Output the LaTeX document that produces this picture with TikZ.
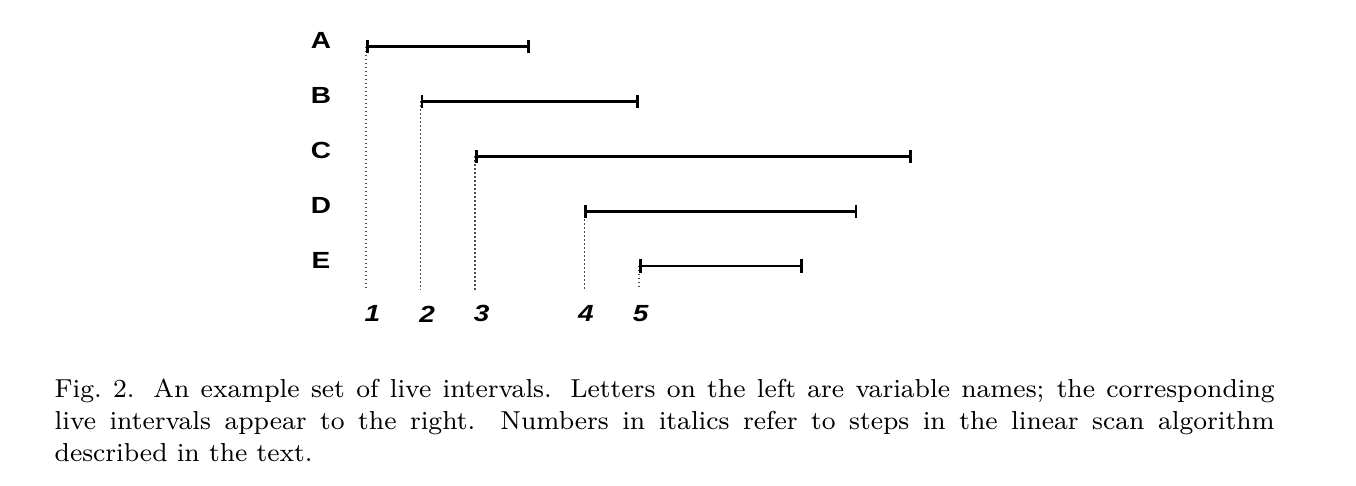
\documentclass[tikz,border=0pt]{standalone}
\usepackage{fontspec}
\usepackage{tikz}
\usetikzlibrary{arrows.meta}
\newfontfamily\labelfont[FakeStretch=1.2]{Liberation Sans}

\tikzset{
    interval/.style={line width=0.8pt, {Bar[width=4pt]}-{Bar[width=4pt]}},
    guide/.style={line width=0.45pt, black!70, dash pattern=on 0.4pt off 0.8pt},
    varname/.style={font=\labelfont\bfseries\fontsize{7}{8}\selectfont, inner sep=0pt},
    stepnum/.style={font=\labelfont\bfseries\itshape\fontsize{7}{8}\selectfont, inner sep=0pt}
}

\begin{document}
\begin{tikzpicture}[x=16.38pt, y=-16.47pt]
    \useasboundingbox (-6.703,-0.847) rectangle (18.132,8.005);

    % bottom ends of the step lines
    \coordinate (b1) at (0,4.435);
    \coordinate (b2) at (1,4.435);
    \coordinate (b3) at (2,4.435);
    \coordinate (b4) at (4,4.435);
    \coordinate (b5) at (5,4.435);

    % interval A
    \coordinate (A1) at (0,0);
    \coordinate (A2) at (3,0);
    \node[varname] (A) at (-0.824,-0.11) {A};
    \draw[guide] (A1) -- (b1);
    \draw[interval] (A1) -- (A2);

    % interval B
    \coordinate (B1) at (1,1);
    \coordinate (B2) at (5,1);
    \node[varname] (B) at (-0.824,0.89) {B};
    \draw[guide] (B1) -- (b2);
    \draw[interval] (B1) -- (B2);

    % interval C
    \coordinate (C1) at (2,2);
    \coordinate (C2) at (10,2);
    \node[varname] (C) at (-0.824,1.89) {C};
    \draw[guide] (C1) -- (b3);
    \draw[interval] (C1) -- (C2);

    % interval D
    \coordinate (D1) at (4,3);
    \coordinate (D2) at (9,3);
    \node[varname] (D) at (-0.824,2.89) {D};
    \draw[guide] (D1) -- (b4);
    \draw[interval] (D1) -- (D2);

    % interval E
    \coordinate (E1) at (5,4);
    \coordinate (E2) at (8,4);
    \node[varname] (E) at (-0.824,3.89) {E};
    \draw[guide] (E1) -- (b5);
    \draw[interval] (E1) -- (E2);

    % step numbers
    \node[stepnum] (n1) at (0.12,4.87) {1};
    \node[stepnum] (n2) at (1.12,4.87) {2};
    \node[stepnum] (n3) at (2.12,4.87) {3};
    \node[stepnum] (n4) at (4.03,4.87) {4};
    \node[stepnum] (n5) at (5.03,4.87) {5};

    % caption
    \node[anchor=north west, inner sep=0pt, text width=366pt, align=justify,
          font=\fontsize{7.8}{9.6}\selectfont] (caption) at (-5.714,6.05)
        {Fig.~2. An example set of live intervals. Letters on the left are variable names; the corresponding\linebreak
         live intervals appear to the right. Numbers in italics refer to steps in the linear scan algorithm\linebreak
         described in the text.};
\end{tikzpicture}
\end{document}
